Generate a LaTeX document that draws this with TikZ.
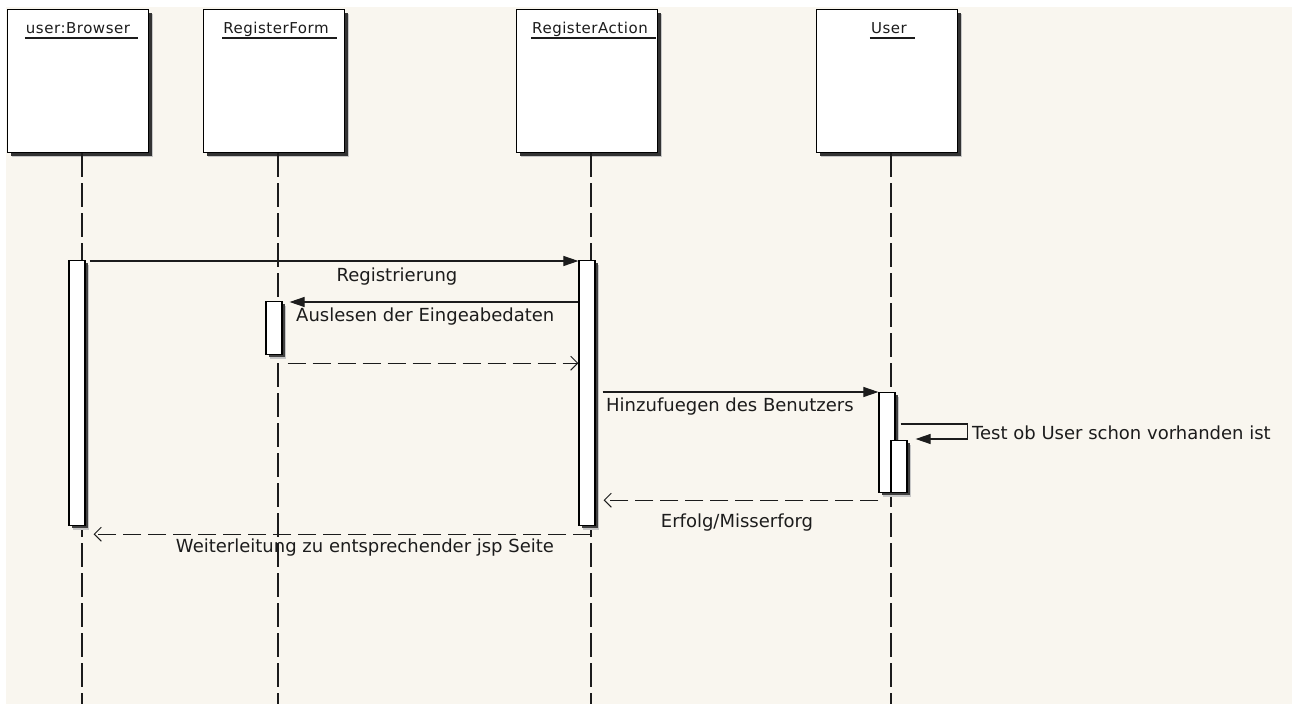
\documentclass[tikz,border=0pt]{standalone}
\usepackage{fontspec}
\setmainfont{DejaVu Sans}
\newfontfamily\titlefont[LetterSpace=3.5]{DejaVu Sans}
\usetikzlibrary{arrows.meta,shadows,calc}
\definecolor{paper}{RGB}{249,246,239}
\definecolor{ink}{RGB}{28,28,28}

\tikzset{
  boxshadow/.style={
    drop shadow={shadow xshift=4.5pt, shadow yshift=-4.5pt, fill=black!22, opacity=1},
    drop shadow={shadow xshift=3pt, shadow yshift=-3pt, fill=black!80, opacity=1}},
  barshadow/.style={
    drop shadow={shadow xshift=4pt, shadow yshift=-4pt, fill=black!22, opacity=1},
    drop shadow={shadow xshift=2.5pt, shadow yshift=-2.5pt, fill=black!75, opacity=1}},
  objbox/.style={draw=black, line width=1.4pt, fill=white, inner sep=0pt,
    minimum width=141pt, minimum height=143pt, boxshadow},
  actbar/.style={draw=black, line width=1.2pt, fill=white, inner sep=0pt,
    minimum width=16pt, anchor=north, barshadow},
  titlelabel/.style={font=\titlefont\fontsize{15}{18}\selectfont, text=ink, inner sep=0pt, anchor=base},
  titleline/.style={draw=ink, line width=1.1pt},
  lifeline/.style={draw=ink, line width=1.3pt, dash pattern=on 24pt off 6pt},
  sync/.style={draw=ink, line width=1.1pt, -{Triangle[length=15pt,width=10pt]}},
  reply/.style={draw=ink, line width=1.1pt, dash pattern=on 18pt off 7pt,
    -{Straight Barb[length=7pt,width=14pt,line width=1pt]}},
  msglabel/.style={font=\fontsize{18}{21}\selectfont, text=ink, inner sep=0pt},
}

\begin{document}
\begin{tikzpicture}[x=1pt,y=-1pt]
  % canvas
  \useasboundingbox (0,0) rectangle (1304,704);
  \fill[white] (0,0) rectangle (1304,704);
  \fill[paper] (6,7) rectangle (1292,704);

  % object boxes
  \node[objbox] (browser) at (78,81) {};
  \node[objbox] (form)    at (274,81) {};
  \node[objbox] (action)  at (587,81) {};
  \node[objbox] (user)    at (887,81) {};

  % object names, underlined
  \node[titlelabel] (tBrowser) at (78,33)  {user:Browser};
  \node[titlelabel] (tForm)    at (276,33) {RegisterForm};
  \node[titlelabel] (tAction)  at (590,33) {RegisterAction};
  \node[titlelabel] (tUser)    at (889,33) {User};
  \foreach \t in {tBrowser,tForm,tAction,tUser}
    \draw[titleline] ([xshift=-1pt,yshift=-5pt]\t.base west) -- ([xshift=8pt,yshift=-5pt]\t.base east);

  % lifelines
  \coordinate (endBrowser) at (82,704);
  \coordinate (endForm)    at (278,704);
  \coordinate (endAction)  at (591,704);
  \coordinate (endUser)    at (891,704);
  \draw[lifeline] ([xshift=4pt]browser.south) -- (endBrowser);
  \draw[lifeline] ([xshift=4pt]form.south)    -- (endForm);
  \draw[lifeline] ([xshift=4pt]action.south)  -- (endAction);
  \draw[lifeline] ([xshift=4pt]user.south)    -- (endUser);

  % activation bars
  \node[actbar, minimum height=265pt] (actBrowser) at (77,260)  {};
  \node[actbar, minimum height=265pt] (actAction)  at (587,260) {};
  \node[actbar, minimum height=53pt]  (actForm)    at (274,301) {};
  \node[actbar, minimum height=100pt] (actUser)    at (887,392) {};
  \node[actbar, minimum height=52pt]  (actNested)  at (899,440) {};

  % messages
  \draw[sync] ([xshift=4pt,yshift=-1pt]actBrowser.north east) -- ([yshift=-1pt]actAction.north west);
  \node[msglabel] (lReg) at (397,277) {Registrierung};

  \draw[sync] ([yshift=-1pt]actAction.north west |- actForm.north) -- ([xshift=7pt,yshift=-1pt]actForm.north east);
  \node[msglabel, anchor=west] (lRead) at (296,317) {Auslesen der Eingeabedaten};

  \draw[reply] ([xshift=5pt,yshift=-8pt]actForm.south east) -- ([yshift=-8pt]actForm.south east -| actAction.west);

  \draw[sync] ([xshift=7pt]actAction.east |- actUser.north) -- (actUser.north west);
  \node[msglabel, anchor=west] (lAdd) at (606,407) {Hinzufuegen des Benutzers};

  \draw[sync] ([xshift=5pt,yshift=-32pt]actUser.north east) -- ++(67,0)
    |- ([xshift=8pt,yshift=1pt]actNested.north east);
  \node[msglabel, anchor=west] (lTest) at (972,433) {Test ob User schon vorhanden ist};

  \draw[reply] ([yshift=-7pt]actUser.south west) -- ([xshift=8pt,yshift=-7pt]actUser.south west -| actAction.east);
  \node[msglabel] (lResult) at (737,523) {Erfolg/Misserforg};

  \draw[reply] ([xshift=4pt,yshift=-8pt]actAction.south) -- ([xshift=8pt,yshift=-8pt]actBrowser.south east);
  \node[msglabel] (lForward) at (365,548) {Weiterleitung zu entsprechender jsp Seite};
\end{tikzpicture}
\end{document}
